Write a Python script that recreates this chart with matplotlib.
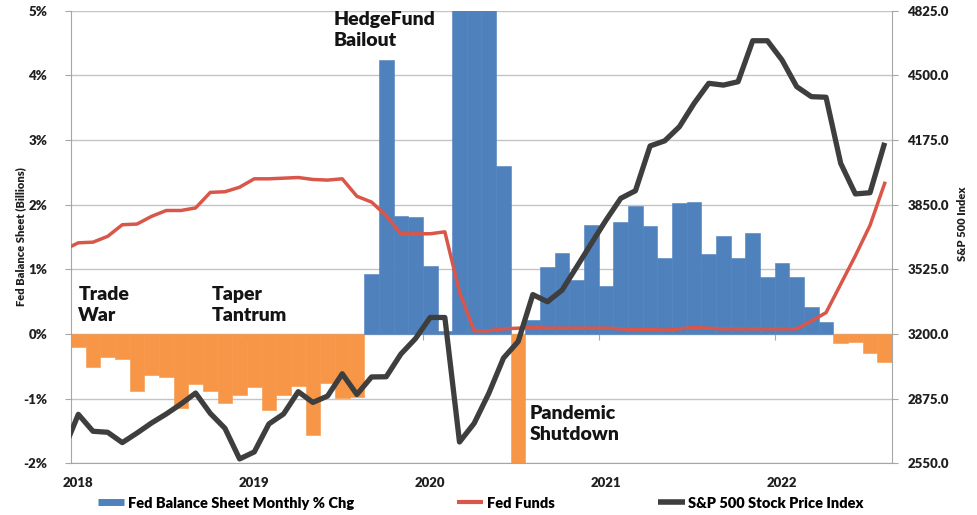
import numpy as np
import matplotlib
matplotlib.use("Agg")
import matplotlib.pyplot as plt
from matplotlib.lines import Line2D
from matplotlib.ticker import NullFormatter

plt.rcParams['font.family'] = ['Lato', 'DejaVu Sans']
plt.rcParams['font.weight'] = 'bold'

# ---- data (monthly, Jan 2018 .. Aug 2022) ----
year_labels = ["2018", "2019", "2020", "2021", "2022"]

# Fed balance sheet monthly % change (bars)
balance_chg = [-0.20, -0.51, -0.36, -0.39, -0.88, -0.63, -0.66, -1.14, -0.78, -0.88, -1.07, -0.94,
               -0.82, -1.18, -0.94, -0.80, -1.56, -0.76, -0.99, -0.98, 0.93, 4.24, 1.82, 1.81,
               1.05, 0.05, 10.0, 37.0, 10.0, 2.60, -2.20, 0.22, 1.04, 1.26, 0.84, 1.68,
               0.74, 1.73, 1.98, 1.67, 1.18, 2.03, 2.04, 1.23, 1.52, 1.18, 1.56, 0.88,
               1.10, 0.88, 0.41, 0.19, -0.14, -0.12, -0.30, -0.43]

# Lines start one month earlier (Dec 2017), clipped at the left edge
fed_funds = [1.30,
             1.41, 1.42, 1.51, 1.69, 1.70, 1.82, 1.91, 1.91, 1.95, 2.19, 2.20, 2.27,
             2.40, 2.40, 2.41, 2.42, 2.39, 2.38, 2.40, 2.13, 2.04, 1.83, 1.55, 1.55,
             1.55, 1.58, 0.65, 0.05, 0.05, 0.08, 0.09, 0.10, 0.09, 0.09, 0.09, 0.09,
             0.09, 0.08, 0.07, 0.07, 0.06, 0.08, 0.10, 0.09, 0.08, 0.08, 0.08, 0.08,
             0.08, 0.08, 0.20, 0.33, 0.77, 1.21, 1.68, 2.33]

sp500 = [2617,
         2796, 2711, 2706, 2654, 2702, 2753, 2798, 2848, 2903, 2801, 2726, 2572,
         2607, 2748, 2798, 2910, 2856, 2888, 3000, 2896, 2984, 2985, 3099, 3177,
         3283, 3283, 2657, 2751, 2902, 3079, 3162, 3398, 3362, 3421, 3538, 3656,
         3773, 3882, 3920, 4145, 4171, 4242, 4359, 4460, 4451, 4468, 4674, 4674,
         4577, 4443, 4393, 4390, 4058, 3904, 3910, 4161]

BLUE = "#4F81BD"
ORANGE = "#F79646"
RED = "#D9564A"
DARK = "#3E3E3E"
GRID = "#C4C4C4"
AXC = "#A6A6A6"
TXT = "#1f1f1f"

n = len(balance_chg)
xb = np.arange(n)
xl = np.arange(-1, n)
vals = np.array(balance_chg)
colors = [BLUE if v >= 0 else ORANGE for v in vals]

fig = plt.figure(figsize=(9.78, 5.15), dpi=100)
ax = fig.add_axes([71 / 978, 1 - 463.3 / 515, 821 / 978, 452.6 / 515])

ax.bar(xb, vals, width=1.0, color=colors, edgecolor=colors, linewidth=0.4, zorder=2)
ax.plot(xl, fed_funds, color=RED, lw=2.5, zorder=3, solid_joinstyle='round')

ax.set_xlim(-0.5, n - 0.5)
ax.set_ylim(-2, 5)
ax.set_yticks(np.arange(-2, 6, 1))
ax.set_yticklabels([f"{v}%" for v in range(-2, 6)], fontweight='heavy')
ax.yaxis.grid(True, color=GRID, lw=1.0, zorder=0)
ax.set_axisbelow(True)
ax.tick_params(axis='y', length=4, color=AXC, pad=13, labelsize=9.5, labelcolor=TXT)
ax.set_xticks(np.arange(0, n, 12))
ax.set_xticklabels(year_labels, fontweight='heavy')
ax.tick_params(axis='x', length=0, pad=10, labelsize=9.5, labelcolor=TXT)
ax.spines['top'].set_visible(False)
ax.spines['right'].set_visible(False)
ax.spines['left'].set_color(AXC)
ax.spines['bottom'].set_color(AXC)
ax.set_ylabel("Fed Balance Sheet (Billions)", fontsize=8, color=TXT, fontweight='heavy')
ax.yaxis.set_label_coords(-0.055, 0.5)

# horizontal category axis crossing at zero
sec = ax.secondary_xaxis(2 / 7)
sec.set_xticks(np.arange(11.5, n - 1, 12))
sec.xaxis.set_major_formatter(NullFormatter())
sec.tick_params(length=4, color=AXC)
for s in sec.spines.values():
    s.set_color(AXC)

ax2 = ax.twinx()
ax2.plot(xl, sp500, color=DARK, lw=3.8, zorder=4, solid_joinstyle='round', solid_capstyle='butt')
ax2.set_ylim(2550, 4825)
ax2.set_yticks(np.arange(2550, 4826, 325))
ax2.set_yticklabels([f"{v:.1f}" for v in np.arange(2550, 4826, 325)], fontweight='heavy')
ax2.tick_params(axis='y', length=4, color=AXC, pad=7, labelsize=9.5, labelcolor=TXT)
for s in ['top', 'left', 'bottom']:
    ax2.spines[s].set_visible(False)
ax2.spines['right'].set_color(AXC)
ax2.set_ylabel("S&P 500 Index", fontsize=8, color=TXT, fontweight='heavy')
ax2.yaxis.set_label_coords(1.079, 0.53)

# annotations
tkw = dict(fontsize=14, fontweight='heavy', color="#141414", va='top', ha='left', linespacing=1.3, zorder=6)
ax.text(0.0, 0.74, "Trade\nWar", **tkw)
ax.text(9.1, 0.74, "Taper\nTantrum", **tkw)
ax.text(17.4, 5.0, "HedgeFund\nBailout", **tkw)
ax.text(30.8, -1.1, "Pandemic\nShutdown", **tkw)

handles = [Line2D([], [], color=BLUE, lw=5, solid_capstyle='butt'),
           Line2D([], [], color=RED, lw=3, solid_capstyle='butt'),
           Line2D([], [], color=DARK, lw=4, solid_capstyle='butt')]
labels = ["Fed Balance Sheet Monthly % Chg", "Fed Funds", "S&P 500 Stock Price Index"]
fig.legend(handles, labels, ncol=3, loc='center', bbox_to_anchor=(0.4915, 0.0233), frameon=False,
           prop={'family': ['Lato', 'DejaVu Sans'], 'weight': 'heavy', 'size': 10.5},
           handlelength=1.8, handletextpad=0.25, columnspacing=7.1)

fig.savefig("out.png", dpi=100)
